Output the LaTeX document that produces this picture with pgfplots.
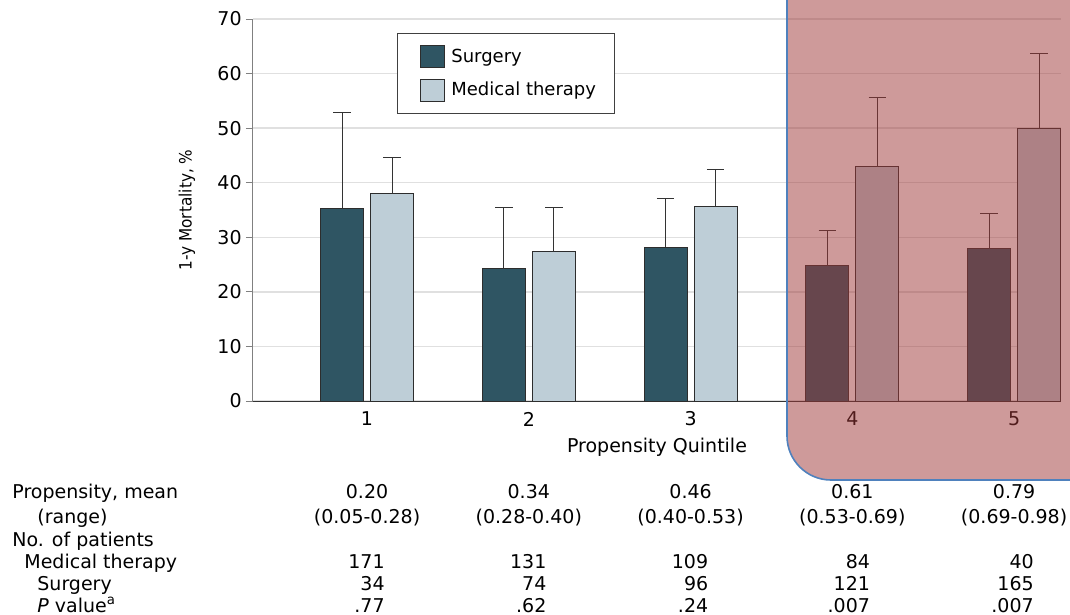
\documentclass[border=0pt]{standalone}
\usepackage{fontspec}
\setmainfont{DejaVu Sans}
\newfontfamily\cond{DejaVu Sans Condensed}
\usepackage{pgfplots}
\pgfplotsset{compat=1.18}
\definecolor{surg}{RGB}{47,85,99}
\definecolor{med}{RGB}{190,206,215}
\definecolor{ovl}{RGB}{158,56,56}
\definecolor{ovlborder}{RGB}{79,129,189}
\definecolor{barline}{RGB}{45,45,45}
\tikzset{tab/.style={font=\fontsize{9.5}{11}\selectfont, text height=7pt, text depth=2pt, inner sep=0pt}}
\begin{document}
\begin{tikzpicture}
\useasboundingbox (-126.5pt,-107pt) rectangle (408.5pt,200.5pt);
\begin{axis}[
  at={(0pt,0pt)}, anchor=south west,
  scale only axis, width=404pt, height=191pt,
  xmin=0.295, xmax=5.29, ymin=0, ymax=70,
  ybar=3.5pt, bar width=21.5pt,
  axis lines=left, axis line style={-},
  x axis line style={draw=black!80, line width=0.5pt},
  y axis line style={draw=black!50, line width=0.5pt},
  xtick={1,2,3,4,5}, ytick={0,10,...,70},
  major x tick style={draw=none},
  y tick style={draw=black!50, line width=0.5pt},
  tick align=outside, major tick length=3.5pt,
  ymajorgrids, grid style={draw=black!12, line width=0.7pt},
  font=\fontsize{9.5}{11}\selectfont,
  /pgf/number format/assume math mode=true,
  xticklabel style={anchor=center, yshift=-5.5pt},
  yticklabel style={anchor=east, inner sep=0pt, xshift=-2pt},
  xlabel={Propensity Quintile},
  xlabel style={at={(rel axis cs:0.5,0)}, anchor=center, yshift=-23pt},
  ylabel={1-y Mortality, \%},
  ylabel style={at={(rel axis cs:0,0.5)}, anchor=center, yshift=33pt, font=\cond\fontsize{8.5}{10}\selectfont},
  clip=false,
  legend style={at={(0.178,0.963)}, anchor=north west, draw=black!75, line width=0.5pt,
    font=\fontsize{9}{10}\selectfont, inner xsep=7pt, inner ysep=5.5pt, row sep=4.5pt,
    cells={anchor=west, inner xsep=0pt}},
  legend image code/.code={\path[draw=none, fill=none] (0pt,0pt) -- (18pt,0pt); \draw[#1, draw=barline, line width=0.5pt] (4.5pt,-5.5pt) rectangle (16.5pt,5.5pt);},
]
\addplot[fill=surg, draw=barline, line width=0.5pt,
  error bars/.cd, y dir=plus, y explicit,
  error bar style={draw=black!80, line width=0.5pt},
  error mark options={rotate=90, mark size=4.4pt, draw=black!80, line width=0.5pt}]
  coordinates {(1,35.3) +- (0,17.5) (2,24.2) +- (0,11.3) (3,28.2) +- (0,8.9) (4,24.8) +- (0,6.5) (5,27.9) +- (0,6.5)};
\addlegendentry{Surgery}
\addplot[fill=med, draw=barline, line width=0.5pt,
  error bars/.cd, y dir=plus, y explicit,
  error bar style={draw=black!80, line width=0.5pt},
  error mark options={rotate=90, mark size=4.4pt, draw=black!80, line width=0.5pt}]
  coordinates {(1,38.0) +- (0,6.6) (2,27.4) +- (0,8.1) (3,35.7) +- (0,6.8) (4,42.9) +- (0,12.8) (5,50.0) +- (0,13.7)};
\addlegendentry{Medical therapy}
% table row labels
\node[tab, anchor=west] at ([xshift=-120.5pt, yshift=-46pt]rel axis cs:0,0) {Propensity, mean};
\node[tab, anchor=west] at ([xshift=-108pt, yshift=-58.5pt]rel axis cs:0,0) {(range)};
\node[tab, anchor=west] at ([xshift=-120.5pt, yshift=-70pt]rel axis cs:0,0) {No. of patients};
\node[tab, anchor=west] at ([xshift=-114.5pt, yshift=-81pt]rel axis cs:0,0) {Medical therapy};
\node[tab, anchor=west] at ([xshift=-108pt, yshift=-92pt]rel axis cs:0,0) {Surgery};
\node[tab, anchor=west] at ([xshift=-108pt, yshift=-103pt]rel axis cs:0,0) {\textit{P} value\textsuperscript{a}};
% row 1
\node[tab] at ([yshift=-46pt]axis cs:1,0) {0.20};
\node[tab] at ([yshift=-46pt]axis cs:2,0) {0.34};
\node[tab] at ([yshift=-46pt]axis cs:3,0) {0.46};
\node[tab] at ([yshift=-46pt]axis cs:4,0) {0.61};
\node[tab] at ([yshift=-46pt]axis cs:5,0) {0.79};
% row 2
\node[tab] at ([yshift=-58.5pt]axis cs:1,0) {(0.05-0.28)};
\node[tab] at ([yshift=-58.5pt]axis cs:2,0) {(0.28-0.40)};
\node[tab] at ([yshift=-58.5pt]axis cs:3,0) {(0.40-0.53)};
\node[tab] at ([yshift=-58.5pt]axis cs:4,0) {(0.53-0.69)};
\node[tab] at ([yshift=-58.5pt]axis cs:5,0) {(0.69-0.98)};
% row 4 medical
\node[tab, anchor=east] at ([xshift=9pt, yshift=-81pt]axis cs:1,0) {171};
\node[tab, anchor=east] at ([xshift=9pt, yshift=-81pt]axis cs:2,0) {131};
\node[tab, anchor=east] at ([xshift=9pt, yshift=-81pt]axis cs:3,0) {109};
\node[tab, anchor=east] at ([xshift=9pt, yshift=-81pt]axis cs:4,0) {84};
\node[tab, anchor=east] at ([xshift=10pt, yshift=-81pt]axis cs:5,0) {40};
% row 5 surgery
\node[tab, anchor=east] at ([xshift=9pt, yshift=-92pt]axis cs:1,0) {34};
\node[tab, anchor=east] at ([xshift=9pt, yshift=-92pt]axis cs:2,0) {74};
\node[tab, anchor=east] at ([xshift=9pt, yshift=-92pt]axis cs:3,0) {96};
\node[tab, anchor=east] at ([xshift=9pt, yshift=-92pt]axis cs:4,0) {121};
\node[tab, anchor=east] at ([xshift=10pt, yshift=-92pt]axis cs:5,0) {165};
% row 6 p value
\node[tab, anchor=east] at ([xshift=9pt, yshift=-103pt]axis cs:1,0) {.77};
\node[tab, anchor=east] at ([xshift=9pt, yshift=-103pt]axis cs:2,0) {.62};
\node[tab, anchor=east] at ([xshift=9pt, yshift=-103pt]axis cs:3,0) {.24};
\node[tab, anchor=east] at ([xshift=9pt, yshift=-103pt]axis cs:4,0) {.007};
\node[tab, anchor=east] at ([xshift=10pt, yshift=-103pt]axis cs:5,0) {.007};
\end{axis}
% highlight overlay
\fill[ovl, fill opacity=0.51, rounded corners=22pt] (267pt,-39.5pt) rectangle (440pt,230pt);
\draw[ovlborder, line width=0.8pt, rounded corners=22pt] (267pt,-39.5pt) rectangle (440pt,230pt);
\end{tikzpicture}
\end{document}
